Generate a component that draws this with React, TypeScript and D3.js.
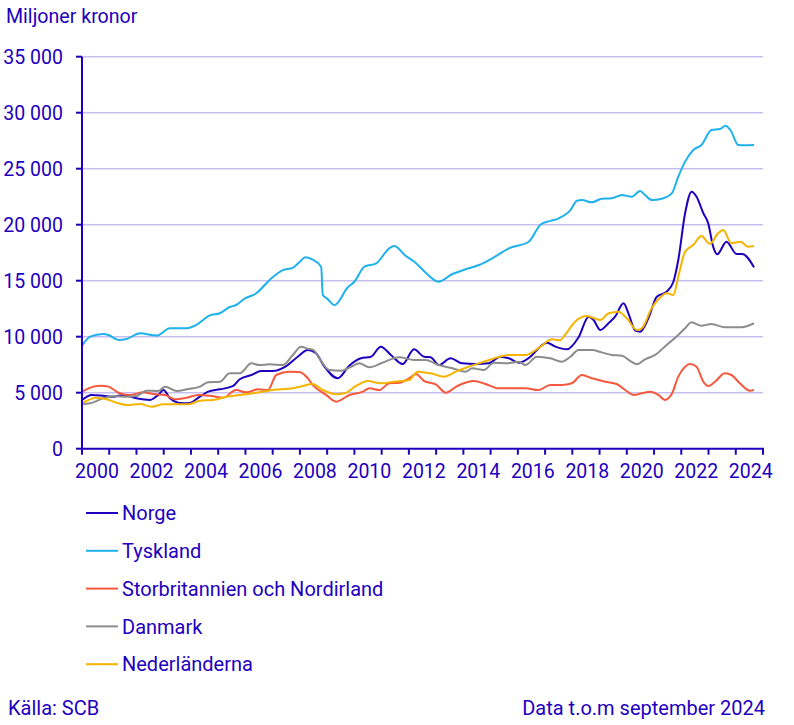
import React from "react";
import * as d3 from "d3";

const yTicks = [0, 5000, 10000, 15000, 20000, 25000, 30000, 35000];
const xTickYears = d3.range(2000, 2026);
const xLabelYears = [2000, 2002, 2004, 2006, 2008, 2010, 2012, 2014, 2016, 2018, 2020, 2022, 2024];

const norgeT = [2000.0, 2000.36, 2000.78, 2001.15, 2001.52, 2002.0, 2002.5, 2002.8, 2002.99, 2003.23, 2003.53, 2003.9, 2004.33, 2004.63, 2005.06, 2005.55, 2005.79, 2006.22, 2006.58, 2007.01, 2007.5, 2007.92, 2008.29, 2008.59, 2008.9, 2009.39, 2009.81, 2010.24, 2010.61, 2010.97, 2011.34, 2011.77, 2012.19, 2012.56, 2012.8, 2013.1, 2013.53, 2013.96, 2014.45, 2014.93, 2015.36, 2015.67, 2016.04, 2016.46, 2016.77, 2017.07, 2017.38, 2017.8, 2018.23, 2018.6, 2018.78, 2019.03, 2019.33, 2019.57, 2019.88, 2020.06, 2020.31, 2020.49, 2020.79, 2021.1, 2021.46, 2021.71, 2021.89, 2022.14, 2022.38, 2022.56, 2022.81, 2022.99, 2023.17, 2023.32, 2023.66, 2024.03, 2024.24, 2024.67];
const norgeV = [4350, 4800, 4730, 4640, 4800, 4500, 4350, 4800, 5240, 4500, 4110, 4050, 4640, 5090, 5300, 5600, 6200, 6580, 6940, 6940, 7380, 8210, 8810, 8520, 7320, 6290, 7410, 8070, 8210, 9110, 8370, 7560, 8870, 8210, 8160, 7470, 8070, 7620, 7560, 7620, 8210, 8070, 7680, 8210, 9000, 9460, 9110, 8870, 9950, 11790, 11490, 10600, 11200, 11790, 12980, 12090, 10540, 10450, 11640, 13570, 14020, 14910, 16850, 21020, 22950, 22500, 21020, 20120, 18040, 17360, 18480, 17380, 17380, 16190];

const tysklandT = [2000.0, 2000.3, 2000.78, 2000.97, 2001.34, 2001.64, 2002.13, 2002.74, 2003.23, 2003.84, 2004.2, 2004.69, 2005.06, 2005.42, 2005.66, 2005.97, 2006.4, 2006.88, 2007.37, 2007.74, 2008.0, 2008.2, 2008.45, 2008.78, 2008.84, 2009.0, 2009.27, 2009.76, 2010.0, 2010.37, 2010.8, 2011.28, 2011.46, 2011.89, 2012.2, 2012.62, 2013.08, 2013.6, 2014.09, 2014.57, 2015.06, 2015.67, 2016.4, 2016.83, 2017.13, 2017.5, 2017.93, 2018.17, 2018.35, 2018.72, 2019.08, 2019.45, 2019.82, 2020.18, 2020.49, 2020.67, 2020.92, 2021.28, 2021.65, 2021.89, 2022.14, 2022.44, 2022.74, 2023.11, 2023.42, 2023.62, 2023.82, 2024.09, 2024.3, 2024.67];
const tysklandV = [9200, 10000, 10240, 10150, 9700, 9800, 10300, 10100, 10750, 10750, 11050, 11900, 12090, 12650, 12830, 13400, 13880, 15050, 15950, 16150, 16700, 17100, 16900, 16250, 13720, 13400, 12830, 14410, 14910, 16250, 16550, 17890, 18100, 17200, 16700, 15710, 14910, 15600, 16020, 16400, 17000, 17890, 18480, 20000, 20300, 20570, 21310, 22140, 22200, 22000, 22320, 22360, 22650, 22500, 23010, 22650, 22200, 22320, 22800, 24290, 25630, 26670, 27120, 28460, 28540, 28840, 28390, 27120, 27100, 27120];

const storbritT = [2000.0, 2000.42, 2000.67, 2000.97, 2001.34, 2001.76, 2002.25, 2002.62, 2003.05, 2003.41, 2003.84, 2004.26, 2004.75, 2005.18, 2005.66, 2006.03, 2006.46, 2006.83, 2007.13, 2007.62, 2007.98, 2008.29, 2008.47, 2008.96, 2009.33, 2009.82, 2010.31, 2010.55, 2010.92, 2011.28, 2011.65, 2012.01, 2012.26, 2012.56, 2012.99, 2013.35, 2013.78, 2014.39, 2014.81, 2015.3, 2015.79, 2016.28, 2016.76, 2017.19, 2017.62, 2017.98, 2018.35, 2018.72, 2019.21, 2019.63, 2019.94, 2020.25, 2020.55, 2020.86, 2021.16, 2021.4, 2021.65, 2021.89, 2022.14, 2022.32, 2022.56, 2022.81, 2022.99, 2023.24, 2023.6, 2023.84, 2024.15, 2024.52, 2024.67];
const storbritV = [5090, 5540, 5630, 5540, 5000, 4800, 5030, 4880, 4800, 4410, 4550, 4800, 4700, 4550, 5240, 5030, 5300, 5240, 6580, 6880, 6850, 6290, 5690, 4800, 4200, 4800, 5090, 5390, 5240, 5840, 5890, 6290, 6670, 6040, 5750, 5000, 5600, 6040, 5780, 5390, 5390, 5390, 5240, 5690, 5690, 5840, 6580, 6290, 5980, 5780, 5240, 4800, 4950, 5090, 4800, 4350, 4880, 6430, 7320, 7560, 7320, 5980, 5600, 5980, 6730, 6580, 5840, 5180, 5240];

const danmarkT = [2000.0, 2000.3, 2000.78, 2001.22, 2001.64, 2002.0, 2002.37, 2002.8, 2003.05, 2003.48, 2003.9, 2004.33, 2004.63, 2005.06, 2005.42, 2005.79, 2006.22, 2006.52, 2006.88, 2007.37, 2007.74, 2008.04, 2008.29, 2008.5, 2008.71, 2009.08, 2009.51, 2009.88, 2010.18, 2010.55, 2011.03, 2011.64, 2012.19, 2012.62, 2013.1, 2013.59, 2014.08, 2014.33, 2014.75, 2015.12, 2015.61, 2016.04, 2016.28, 2016.7, 2017.19, 2017.62, 2017.93, 2018.23, 2018.72, 2019.08, 2019.45, 2019.82, 2020.13, 2020.37, 2020.67, 2021.04, 2021.46, 2021.89, 2022.14, 2022.38, 2022.74, 2023.11, 2023.6, 2024.21, 2024.67];
const danmarkV = [3990, 4050, 4500, 4700, 4640, 4700, 5180, 5150, 5540, 5150, 5330, 5540, 5930, 5980, 6730, 6730, 7620, 7470, 7540, 7470, 8370, 9100, 8930, 8800, 8070, 7030, 6960, 7320, 7620, 7270, 7680, 8160, 7920, 7920, 7470, 7180, 6880, 7180, 7030, 7680, 7620, 7770, 7470, 8210, 8070, 7770, 8210, 8810, 8810, 8600, 8370, 8300, 7830, 7540, 7980, 8370, 9260, 10150, 10750, 11280, 10980, 11130, 10840, 10840, 11200];

const nederT = [2000.0, 2000.54, 2000.9, 2001.34, 2001.64, 2002.13, 2002.56, 2002.99, 2003.48, 2003.9, 2004.33, 2004.81, 2005.3, 2005.79, 2006.28, 2007.01, 2007.74, 2008.1, 2008.47, 2008.84, 2009.33, 2009.64, 2010.06, 2010.49, 2010.97, 2011.46, 2012.01, 2012.32, 2012.8, 2013.29, 2013.72, 2014.09, 2014.57, 2015.06, 2015.67, 2016.28, 2016.77, 2017.25, 2017.55, 2017.73, 2018.1, 2018.53, 2019.03, 2019.33, 2019.7, 2020.0, 2020.37, 2020.55, 2020.91, 2021.16, 2021.46, 2021.71, 2021.89, 2022.14, 2022.44, 2022.74, 2023.05, 2023.35, 2023.54, 2023.84, 2024.18, 2024.45, 2024.67];
const nederV = [4050, 4550, 4410, 4050, 3900, 3990, 3750, 3960, 3960, 3960, 4290, 4350, 4640, 4800, 4950, 5240, 5390, 5600, 5780, 5240, 4860, 4950, 5600, 6040, 5840, 5980, 6130, 6880, 6730, 6430, 6880, 7230, 7620, 8010, 8370, 8370, 9000, 9770, 9680, 10150, 11340, 11850, 11490, 12090, 12230, 11640, 10600, 10750, 12540, 13340, 13880, 13720, 15360, 17590, 18190, 18990, 18280, 19230, 19530, 18340, 18480, 18040, 18100];

const seriesNames = ["Norge", "Tyskland", "Storbritannien och Nordirland", "Danmark", "Nederländerna"];
const seriesColors = ["#1E00BE", "#1EB1EB", "#F5583C", "#8C8C8C", "#F5B400"];
const seriesTimes = [norgeT, tysklandT, storbritT, danmarkT, nederT];
const seriesValues = [norgeV, tysklandV, storbritV, danmarkV, nederV];

const TEXT = "#1E00BE";
const FONT = "Roboto, 'Noto Sans', sans-serif";

export default function App() {
  const W = 794, H = 725;
  const x = d3.scaleLinear().domain([2000, 2025]).range([82, 763]);
  const y = d3.scaleLinear().domain([0, 35000]).range([448.7, 56.7]);
  const fmt = (v: number) => d3.format(",")(v).replace(/,/g, " ");
  const line = d3
    .line<[number, number]>()
    .x((d) => x(d[0]))
    .y((d) => y(d[1]))
    .curve(d3.curveMonotoneX);

  return (
    <svg width={W} height={H} style={{ position: "absolute", left: 0, top: 0, background: "#fff" }} fontFamily={FONT}>
      <text x={6} y={23} fontSize={19.6} fill={TEXT}>Miljoner kronor</text>
      {yTicks.map((t) => (
        <g key={t}>
          {t > 0 && (
            <line x1={82} x2={763} y1={y(t)} y2={y(t)} stroke="rgba(30,0,190,0.25)" strokeWidth={1.4} />
          )}
          <line x1={76} x2={82} y1={y(t)} y2={y(t)} stroke={TEXT} strokeWidth={2} />
          <text x={63} y={y(t)} dy="0.36em" textAnchor="end" fontSize={19.5} fill={TEXT}>{fmt(t)}</text>
        </g>
      ))}
      {seriesNames.map((n, i) => {
        const pts: [number, number][] = seriesTimes[i].map((t, j) => [t, seriesValues[i][j]]);
        return <path key={n} d={line(pts) || ""} fill="none" stroke={seriesColors[i]} strokeWidth={2} strokeLinejoin="round" />;
      })}
      <line x1={82} x2={82} y1={y(35000)} y2={y(0)} stroke={TEXT} strokeWidth={2} />
      <line x1={81} x2={764} y1={y(0)} y2={y(0)} stroke={TEXT} strokeWidth={2} />
      {xTickYears.map((yr) => (
        <line key={yr} x1={x(yr)} x2={x(yr)} y1={y(0)} y2={y(0) + 6} stroke={TEXT} strokeWidth={2} />
      ))}
      {xLabelYears.map((yr) => (
        <text key={yr} x={x(yr + 0.55)} y={478} textAnchor="middle" fontSize={19.5} fill={TEXT}>{yr}</text>
      ))}
      {seriesNames.map((n, i) => (
        <g key={n} transform={`translate(0, ${513 + i * 37.8})`}>
          <line x1={86} x2={118} y1={0} y2={0} stroke={seriesColors[i]} strokeWidth={2} />
          <text x={122} y={0} dy="0.36em" fontSize={20} fill={TEXT}>{n}</text>
        </g>
      ))}
      <text x={8} y={715} fontSize={20} fill={TEXT}>Källa: SCB</text>
      <text x={765} y={715} textAnchor="end" fontSize={20} fill={TEXT}>Data t.o.m september 2024</text>
    </svg>
  );
}
